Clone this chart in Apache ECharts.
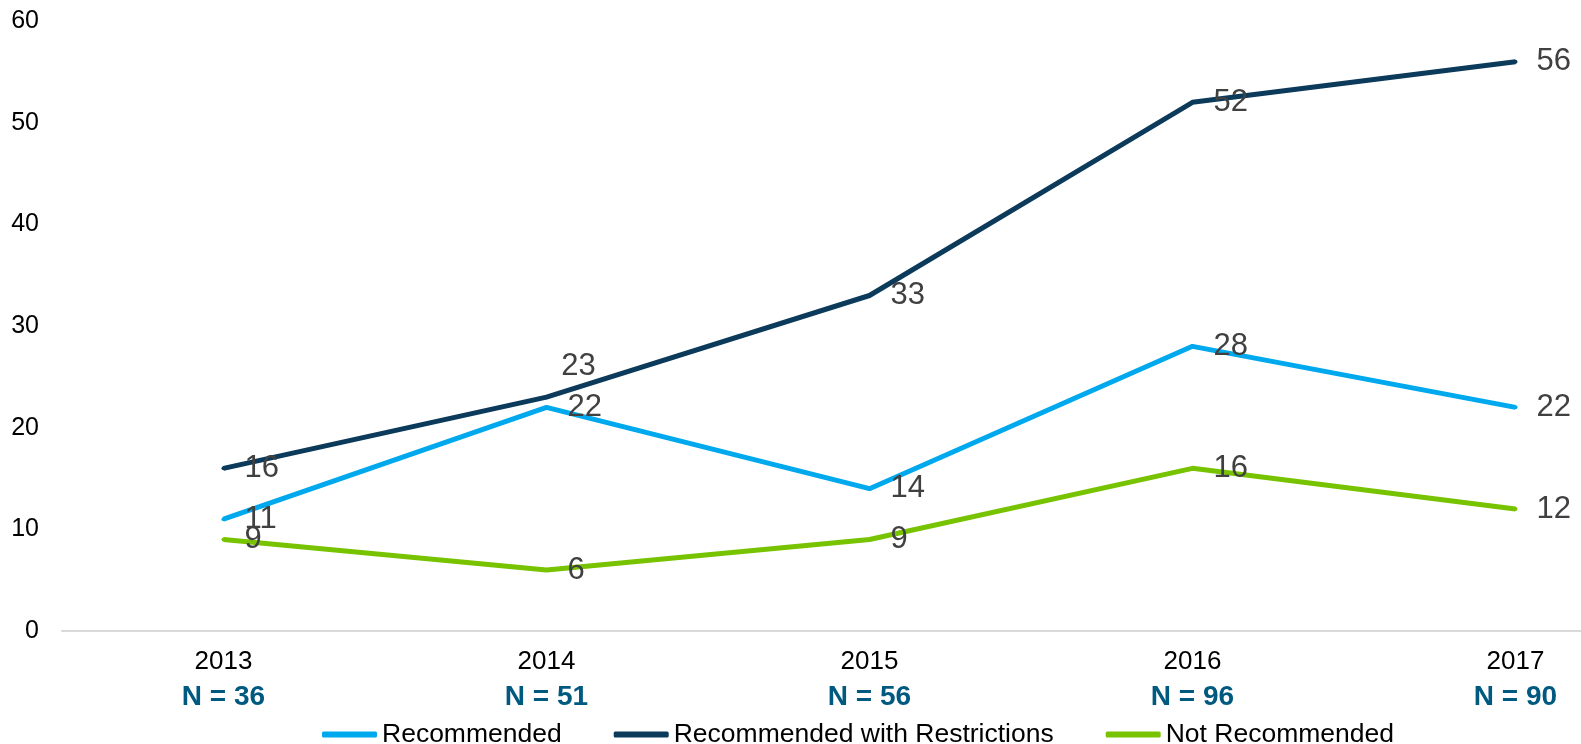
<!DOCTYPE html>
<html>
<head>
<meta charset="utf-8">
<script src="https://cdn.jsdelivr.net/npm/echarts@6/dist/echarts.min.js"></script>
<style>
  html, body { margin: 0; padding: 0; background: #fff; }
  #chart { width: 1581px; height: 744px; }
</style>
</head>
<body>
<div id="chart"></div>
<script>
  let years = ['2013', '2014', '2015', '2016', '2017'];
  let sampleN = [36, 51, 56, 96, 90];
  let recommended = [11, 22, 14, 28, 22];
  let withRestrictions = [16, 23, 33, 52, 56];
  let notRecommended = [9, 6, 9, 16, 12];

  const FONT = '"Liberation Sans", Arial, sans-serif';

  function labelled(values) {
    return values.map(function (v) { return { value: v }; });
  }

  let restrictionsData = labelled(withRestrictions);
  // the 2014 label sits above the line in the original
  restrictionsData[1].label = { position: 'top', distance: 5, offset: [32, -8] };

  function lineSeries(name, color, data) {
    return {
      name: name,
      type: 'line',
      data: data,
      symbol: 'circle',
      symbolSize: 4,
      itemStyle: { color: color },
      lineStyle: { color: color, width: 5 },
      label: {
        show: true,
        position: 'right',
        distance: 19,
        color: '#404040',
        fontSize: 31,
        fontFamily: FONT
      }
    };
  }

  let option = {
    animation: false,
    color: ['#00A9EE', '#0B3A5B', '#78C300'],
    grid: {
      left: 62,
      top: 21,
      bottom: 113,
      width: 1615,
      outerBoundsMode: 'none'
    },
    legend: {
      top: 716,
      left: 317,
      icon: 'roundRect',
      itemWidth: 55,
      itemHeight: 6,
      itemGap: 52,
      textStyle: { fontSize: 26.5, color: '#000', fontFamily: FONT },
      data: ['Recommended', 'Recommended with Restrictions', 'Not Recommended']
    },
    xAxis: {
      type: 'category',
      boundaryGap: true,
      data: years,
      axisLine: { lineStyle: { color: '#d9d9d9', width: 2 } },
      axisTick: { show: false },
      axisLabel: {
        margin: 14,
        color: '#000',
        fontSize: 26,
        fontFamily: FONT,
        lineHeight: 34,
        formatter: function (v, i) {
          return v + '\n{n|N = ' + sampleN[i] + '}';
        },
        rich: {
          n: {
            fontSize: 28,
            fontWeight: 'bold',
            color: '#005A80',
            fontFamily: FONT,
            lineHeight: 36
          }
        }
      }
    },
    yAxis: {
      type: 'value',
      min: 0,
      max: 60,
      interval: 10,
      splitLine: { show: false },
      axisLine: { show: false },
      axisTick: { show: false },
      axisLabel: {
        margin: 23,
        color: '#000',
        fontSize: 25,
        fontFamily: FONT
      }
    },
    series: [
      lineSeries('Recommended', '#00A9EE', labelled(recommended)),
      lineSeries('Recommended with Restrictions', '#0B3A5B', restrictionsData),
      lineSeries('Not Recommended', '#78C300', labelled(notRecommended))
    ]
  };

  var myChart = echarts.init(document.getElementById('chart'));
  myChart.setOption(option);
</script>
</body>
</html>
